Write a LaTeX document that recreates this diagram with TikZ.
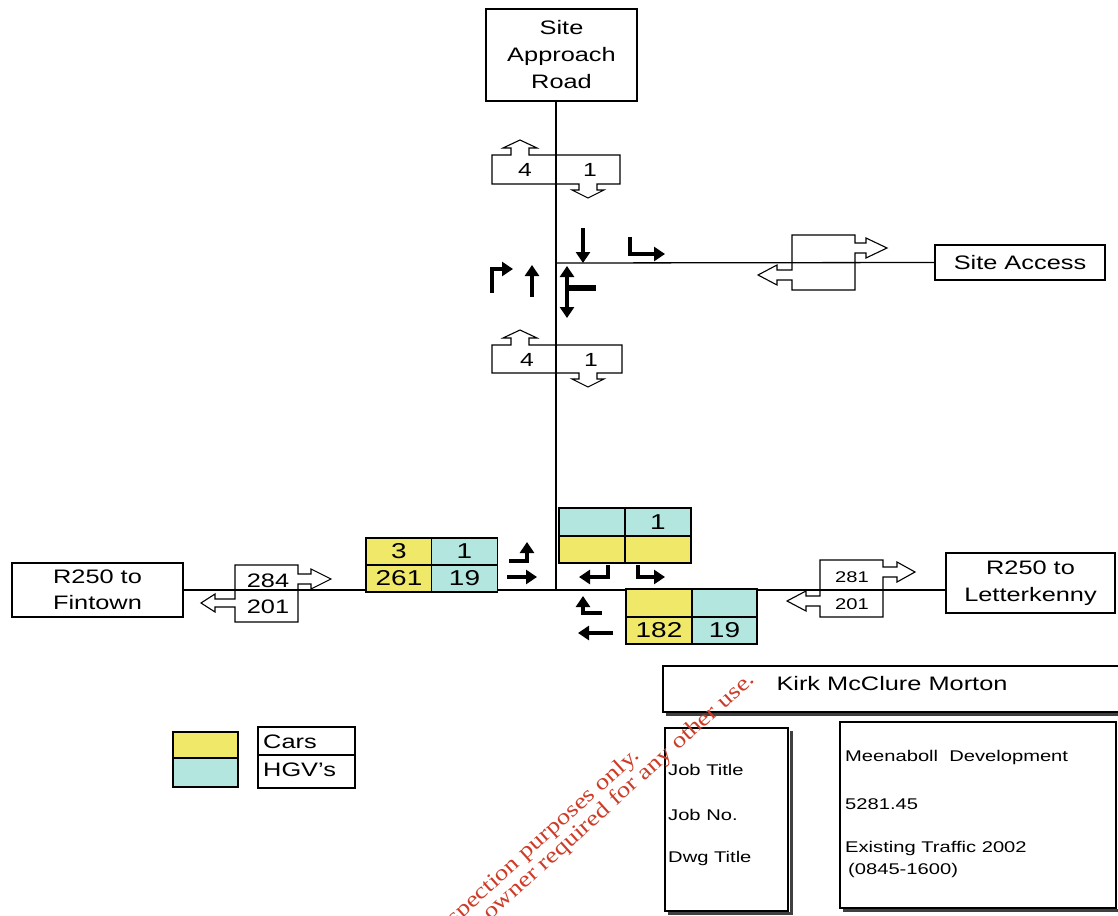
\documentclass[tikz,border=0pt]{standalone}
\usepackage{fontspec}
\setmainfont{Liberation Sans}[FakeStretch=1.3]
\newfontfamily\wmfont{Liberation Serif}[FakeStretch=1.22]
\usetikzlibrary{arrows.meta,calc}
\definecolor{caryel}{RGB}{240,232,104}
\definecolor{hgvcyan}{RGB}{178,230,222}
\definecolor{wmred}{RGB}{205,60,40}
\begin{document}
\begin{tikzpicture}[x=1pt,y=-1pt,
  road/.style={line width=1.3pt},
  lbl/.style={draw, line width=1.2pt, inner sep=0pt, align=center, font=\fontsize{19.5}{27}\selectfont},
  fb/.style={draw, line width=1.1pt, line join=miter},
  num/.style={inner sep=0pt, font=\fontsize{19}{21}\selectfont},
  bignum/.style={inner sep=0pt, font=\fontsize{19.5}{21}\selectfont},
  smallnum/.style={inner sep=0pt, font=\fontsize{15.5}{17}\selectfont},
  turn/.style={line width=4.5pt, -{Triangle[length=11pt,width=14pt]}},
  turnbar/.style={line width=5.5pt},
  cell/.style={draw, line width=1.5pt, minimum width=66pt, minimum height=27pt, inner sep=0pt, font=\fontsize{21.5}{23}\selectfont},
  legcell/.style={draw, line width=2pt, minimum width=65pt, minimum height=27pt, inner sep=0pt},
  tb/.style={draw, line width=1.3pt},
  shadow/.style={line width=3pt, black!75},
  tbtext/.style={inner sep=0pt, anchor=west, font=\fontsize{15.5}{18}\selectfont},
  legtext/.style={inner sep=0pt, anchor=west, font=\fontsize{19.5}{21}\selectfont},
  wm/.style={inner sep=0pt, text=wmred, font=\wmfont\fontsize{22}{24}\selectfont, rotate=42}
]
\useasboundingbox (0,0) rectangle (1118,915);
\fill[white] (0,0) rectangle (1118,915);

% label boxes
\node[lbl, minimum width=151pt, minimum height=92pt] (sar) at (561.5,55) {Site\\Approach\\Road};
\node[lbl, minimum width=170pt, minimum height=35pt] (sa) at (1020,262.5) {Site Access};
\node[lbl, minimum width=171pt, minimum height=54pt, font=\fontsize{19.5}{26}\selectfont] (fin) at (97.5,590) {R250 to\\Fintown};
\node[lbl, minimum width=169pt, minimum height=60pt, font=\fontsize{19.5}{27}\selectfont] (let) at (1030.5,583) {R250 to\\Letterkenny};

% junctions and roads
\coordinate (j1) at (556,263);
\coordinate (j2) at (556,590);
\draw[road] (sar.south -| j1) -- (j2);
\draw[road] (j1) -- (sa.west);
\draw[road] (fin.east) -- (j2) -- (let.west |- j2);

% flow boxes on site approach road
\draw[fb] (492,155) -- (511,155) -- (511,148) -- (503,148) -- (520,140) -- (537,148) -- (529,148) -- (529,155) -- (620,155) -- (620,184) -- (597,184) -- (597,190) -- (604,190) -- (588,198) -- (572,190) -- (579,190) -- (579,184) -- (492,184) -- cycle;
\node[num] (n4a) at (525,170) {4};
\node[num] (n1a) at (590,170) {1};

\draw[fb] (492,345) -- (511,345) -- (511,338) -- (503,338) -- (520,330) -- (537,338) -- (529,338) -- (529,345) -- (622,345) -- (622,373) -- (597,373) -- (597,379) -- (604,379) -- (588,387) -- (572,379) -- (579,379) -- (579,373) -- (492,373) -- cycle;
\node[num] (n4b) at (527,360) {4};
\node[num] (n1b) at (591,360) {1};

% flow box on site access
\draw[fb] (792,235) -- (855,235) -- (855,243) -- (866,243) -- (866,238) -- (887,248) -- (866,258) -- (866,253) -- (855,253) -- (855,290) -- (792,290) -- (792,280) -- (777,280) -- (777,285) -- (758,275) -- (777,265) -- (777,270) -- (792,270) -- cycle;

% flow box Fintown side
\draw[fb] (235,565) -- (298,565) -- (298,574) -- (311,574) -- (311,569) -- (331,579) -- (311,589) -- (311,584) -- (298,584) -- (298,622) -- (235,622) -- (235,607) -- (215,607) -- (215,612) -- (201,603) -- (215,594) -- (215,599) -- (235,599) -- cycle;
\node[bignum] (f284) at (268,581) {284};
\node[bignum] (f201) at (268,607) {201};

% flow box Letterkenny side
\draw[fb] (820,560) -- (883,560) -- (883,567) -- (897,567) -- (897,562) -- (915,572) -- (897,582) -- (897,577) -- (883,577) -- (883,617) -- (820,617) -- (820,606) -- (806,606) -- (806,611) -- (787,601) -- (806,591) -- (806,596) -- (820,596) -- cycle;
\node[smallnum] (l281) at (852,577) {281};
\node[smallnum] (l201) at (852,604) {201};

% turning arrows, junction 1
\draw[turn] (583,228) -- (583,263);
\draw[turn] (630,237) -- (630,254) -- (665,254);
\draw[turn] (492,293) -- (492,269) -- (513,269);
\draw[turn] (532,297) -- (532,265);
\draw[turnbar] (596,288) -- (567,288);
\draw[turn] (567,290) -- (567,266);
\draw[turn] (567,286) -- (567,318);

% turning arrows, junction 2
\draw[turn] (509,561) -- (527,561) -- (527,542);
\draw[turn] (507,577) -- (537,577);
\draw[turn] (608,565) -- (608,577) -- (579,577);
\draw[turn] (638,565) -- (638,577) -- (665,577);
\draw[turn] (602,613) -- (583,613) -- (583,596);
\draw[turn] (613,633) -- (578,633);

% count tables
\node[cell, fill=caryel] (w11) at (399,551.5) {3};
\node[cell, fill=hgvcyan] (w12) at (464.5,551.5) {1};
\node[cell, fill=caryel] (w21) at (399,578.5) {261};
\node[cell, fill=hgvcyan] (w22) at (464.5,578.5) {19};

\node[cell, fill=hgvcyan, minimum height=28pt] (n11) at (592,522) {};
\node[cell, fill=hgvcyan, minimum height=28pt] (n12) at (658,522) {1};
\node[cell, fill=caryel] (n21) at (592,549.5) {};
\node[cell, fill=caryel] (n22) at (658,549.5) {};

\node[cell, fill=caryel, minimum height=28pt] (e11) at (659,603) {};
\node[cell, fill=hgvcyan, minimum height=28pt, minimum width=65pt] (e12) at (724.5,603) {};
\node[cell, fill=caryel] (e21) at (659,630.5) {182};
\node[cell, fill=hgvcyan, minimum width=65pt] (e22) at (724.5,630.5) {19};

% legend
\node[legcell, fill=caryel, minimum height=26pt] (lgy) at (205.5,745) {};
\node[legcell, fill=hgvcyan, minimum height=29pt] (lgc) at (205.5,772.5) {};
\draw[tb] (258,727) rectangle (355,788);
\draw[tb] (258,755) -- (355,755);
\node[legtext] (cars) at (263,742) {Cars};
\node[legtext] (hgv) at (263,770) {HGV's};

% title block
\draw[shadow] (666,714) -- (1118,714);
\draw[tb, fill=white] (663,666) rectangle (1125,712);
\node[inner sep=0pt, font=\fontsize{19.5}{21}\selectfont] (kmm) at (892,684) {Kirk McClure Morton};

\draw[shadow] (791,731) -- (791,913) -- (668,913);
\draw[tb, fill=white] (665,728) rectangle (788,911);
\node[tbtext] (jt) at (668,770) {Job Title};
\node[tbtext] (jn) at (668,815) {Job No.};
\node[tbtext] (dt) at (668,858) {Dwg Title};

\draw[shadow] (843,910) -- (1118,910);
\draw[tb, fill=white] (840,722) rectangle (1116,908);
\node[tbtext] (t1) at (845,757) {Meenaboll\ \ Development};
\node[tbtext] (t2) at (845,804) {5281.45};
\node[tbtext] (t3) at (845,848) {Existing Traffic 2002};
\node[tbtext] (t4) at (848,870) {(0845-1600)};

% watermark
\begin{scope}
\clip (0,0) rectangle (1118,915);
\node[wm, anchor=base east] (wm2) at (756,681) {Consent of copyright owner required for any other use.};
\node[wm, anchor=base east] (wm1) at (641,757) {For inspection purposes only.};
\end{scope}
\end{tikzpicture}
\end{document}
